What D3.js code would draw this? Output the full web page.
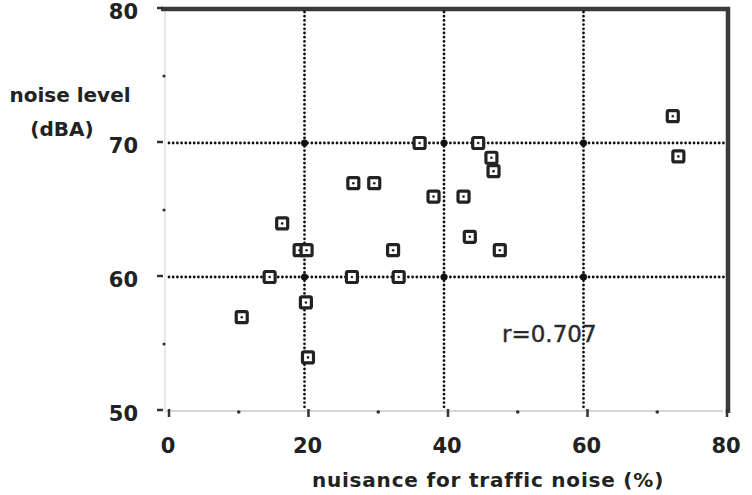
<!DOCTYPE html>
<html lang="en">
	<head>
		<meta charset="utf-8">
		<title>Noise level vs nuisance</title>
		<script type="text/javascript" src="https://d3js.org/d3.v7.min.js"></script>
		<style type="text/css">
			body { margin: 0; background: #fff; }
			.tick-label { font-family: "DejaVu Sans"; font-weight: bold; font-size: 21px; fill: #222; }
			.axis-title { font-family: "DejaVu Sans"; font-weight: bold; font-size: 20px; fill: #222; }
			.x-title { letter-spacing: 0.8px; }
			.note { font-family: "DejaVu Sans"; font-size: 23px; fill: #2a2a2a; stroke: #2a2a2a; stroke-width: 0.4; }
		</style>
	</head>
	<body>
		<div id="chart"></div>
		<script type="text/javascript">
			// data
			const nuisance = [11, 15, 16.8, 19.3, 20.3, 20.2, 20.5, 26.8, 27, 30, 32.7, 33.5,
			                  36.5, 38.5, 42.8, 43.7, 44.9, 46.8, 47.1, 48, 72.8, 73.6];
			const noise    = [57, 60, 64, 62, 62, 58.1, 54, 60, 67, 67, 62, 60,
			                  70, 66, 66, 63, 70, 68.9, 67.9, 62, 72, 69];
			const xTicks = [0, 20, 40, 60, 80];
			const yTicks = [50, 60, 70, 80];
			const xMinor = [10, 30, 50, 70];
			const yMinor = [55, 65, 75];
			const xGrid = [20, 40, 60];
			const yGrid = [60, 70];

			const data = nuisance.map(function(d, i) { return { x: d, y: noise[i] }; });

			const width = 752, height = 495;
			const xScale = d3.scaleLinear().domain([0, 80]).range([165, 723]);
			const yScale = d3.scaleLinear().domain([50, 80]).range([411, 9]);

			const svg = d3.select("#chart").append("svg")
				.attr("width", width)
				.attr("height", height);

			// faint axis lines
			svg.append("line")
				.attr("x1", xScale(0)).attr("x2", xScale(80))
				.attr("y1", yScale(50)).attr("y2", yScale(50))
				.attr("stroke", "#c8c8c8").attr("stroke-width", 1.5);
			svg.append("line")
				.attr("x1", xScale(0)).attr("x2", xScale(0))
				.attr("y1", yScale(50)).attr("y2", yScale(80))
				.attr("stroke", "#e2e2e2").attr("stroke-width", 1.5);

			// heavy top and right frame
			svg.append("path")
				.attr("d", "M" + (xScale(0) - 4) + "," + yScale(80) +
				           "H" + (xScale(80) + 5) + "V" + (yScale(50) + 2))
				.attr("fill", "none")
				.attr("stroke", "#3a3a3a")
				.attr("stroke-width", 4.5);

			// dotted grid
			svg.selectAll(".vgrid")
				.data(xGrid)
				.enter().append("line")
				.attr("x1", function(d) { return xScale(d); })
				.attr("x2", function(d) { return xScale(d); })
				.attr("y1", yScale(80) + 3).attr("y2", yScale(50) - 2)
				.attr("stroke", "#111").attr("stroke-width", 2.8)
				.attr("stroke-linecap", "round")
				.attr("stroke-dasharray", "0 4.2");
			svg.selectAll(".hgrid")
				.data(yGrid)
				.enter().append("line")
				.attr("x1", xScale(0) + 4).attr("x2", xScale(80) + 2)
				.attr("y1", function(d) { return yScale(d); })
				.attr("y2", function(d) { return yScale(d); })
				.attr("stroke", "#111").attr("stroke-width", 2.8)
				.attr("stroke-linecap", "round")
				.attr("stroke-dasharray", "0 4.2");

			// grid intersections
			xGrid.forEach(function(gx) {
				yGrid.forEach(function(gy) {
					svg.append("circle")
						.attr("cx", xScale(gx)).attr("cy", yScale(gy))
						.attr("r", 3.5).attr("fill", "#111");
				});
			});

			// ticks
			svg.selectAll(".xtick")
				.data(xTicks)
				.enter().append("line")
				.attr("x1", function(d) { return xScale(d) + 4; })
				.attr("x2", function(d) { return xScale(d) + 4; })
				.attr("y1", yScale(50) - 2).attr("y2", yScale(50) + 6)
				.attr("stroke", "#333").attr("stroke-width", 2.5);
			svg.selectAll(".xminor")
				.data(xMinor)
				.enter().append("circle")
				.attr("cx", function(d) { return xScale(d) + 4; })
				.attr("cy", yScale(50) + 1)
				.attr("r", 1.8).attr("fill", "#333");
			svg.selectAll(".ytick")
				.data(yTicks)
				.enter().append("line")
				.attr("x1", xScale(0) - 8).attr("x2", xScale(0) - 2)
				.attr("y1", function(d) { return yScale(d) - 1; })
				.attr("y2", function(d) { return yScale(d) - 1; })
				.attr("stroke", "#333").attr("stroke-width", 2.5);
			svg.selectAll(".yminor")
				.data(yMinor)
				.enter().append("circle")
				.attr("cx", xScale(0) - 1)
				.attr("cy", function(d) { return yScale(d); })
				.attr("r", 1.6).attr("fill", "#333");

			// tick labels
			svg.selectAll(".xlabel")
				.data(xTicks)
				.enter().append("text")
				.attr("class", "tick-label")
				.attr("x", function(d) { return xScale(d) + 3; })
				.attr("y", 453)
				.attr("text-anchor", "middle")
				.text(function(d) { return d; });
			svg.selectAll(".ylabel")
				.data(yTicks)
				.enter().append("text")
				.attr("class", "tick-label")
				.attr("x", 138)
				.attr("y", function(d) { return yScale(d) + 10; })
				.attr("text-anchor", "end")
				.text(function(d) { return d; });

			// axis titles
			svg.append("text")
				.attr("class", "axis-title x-title")
				.attr("x", 488).attr("y", 487)
				.attr("text-anchor", "middle")
				.text("nuisance for traffic noise (%)");
			svg.append("text")
				.attr("class", "axis-title")
				.attr("x", 70).attr("y", 102)
				.attr("text-anchor", "middle")
				.text("noise level");
			svg.append("text")
				.attr("class", "axis-title")
				.attr("x", 62).attr("y", 136)
				.attr("text-anchor", "middle")
				.text("(dBA)");

			// correlation note
			svg.append("text")
				.attr("class", "note")
				.attr("x", 502).attr("y", 342)
				.text("r=0.707");

			// markers
			const marks = svg.selectAll(".pt")
				.data(data)
				.enter().append("g")
				.attr("transform", function(d) {
					return "translate(" + xScale(d.x) + "," + yScale(d.y) + ")";
				});
			marks.append("rect")
				.attr("x", -5.5).attr("y", -5.5)
				.attr("width", 11).attr("height", 11)
				.attr("rx", 1.5)
				.attr("fill", "#fff")
				.attr("stroke", "#222")
				.attr("stroke-width", 3.2);
			marks.append("circle")
				.attr("r", 1.3)
				.attr("fill", "#222");
		</script>
	</body>
</html>
